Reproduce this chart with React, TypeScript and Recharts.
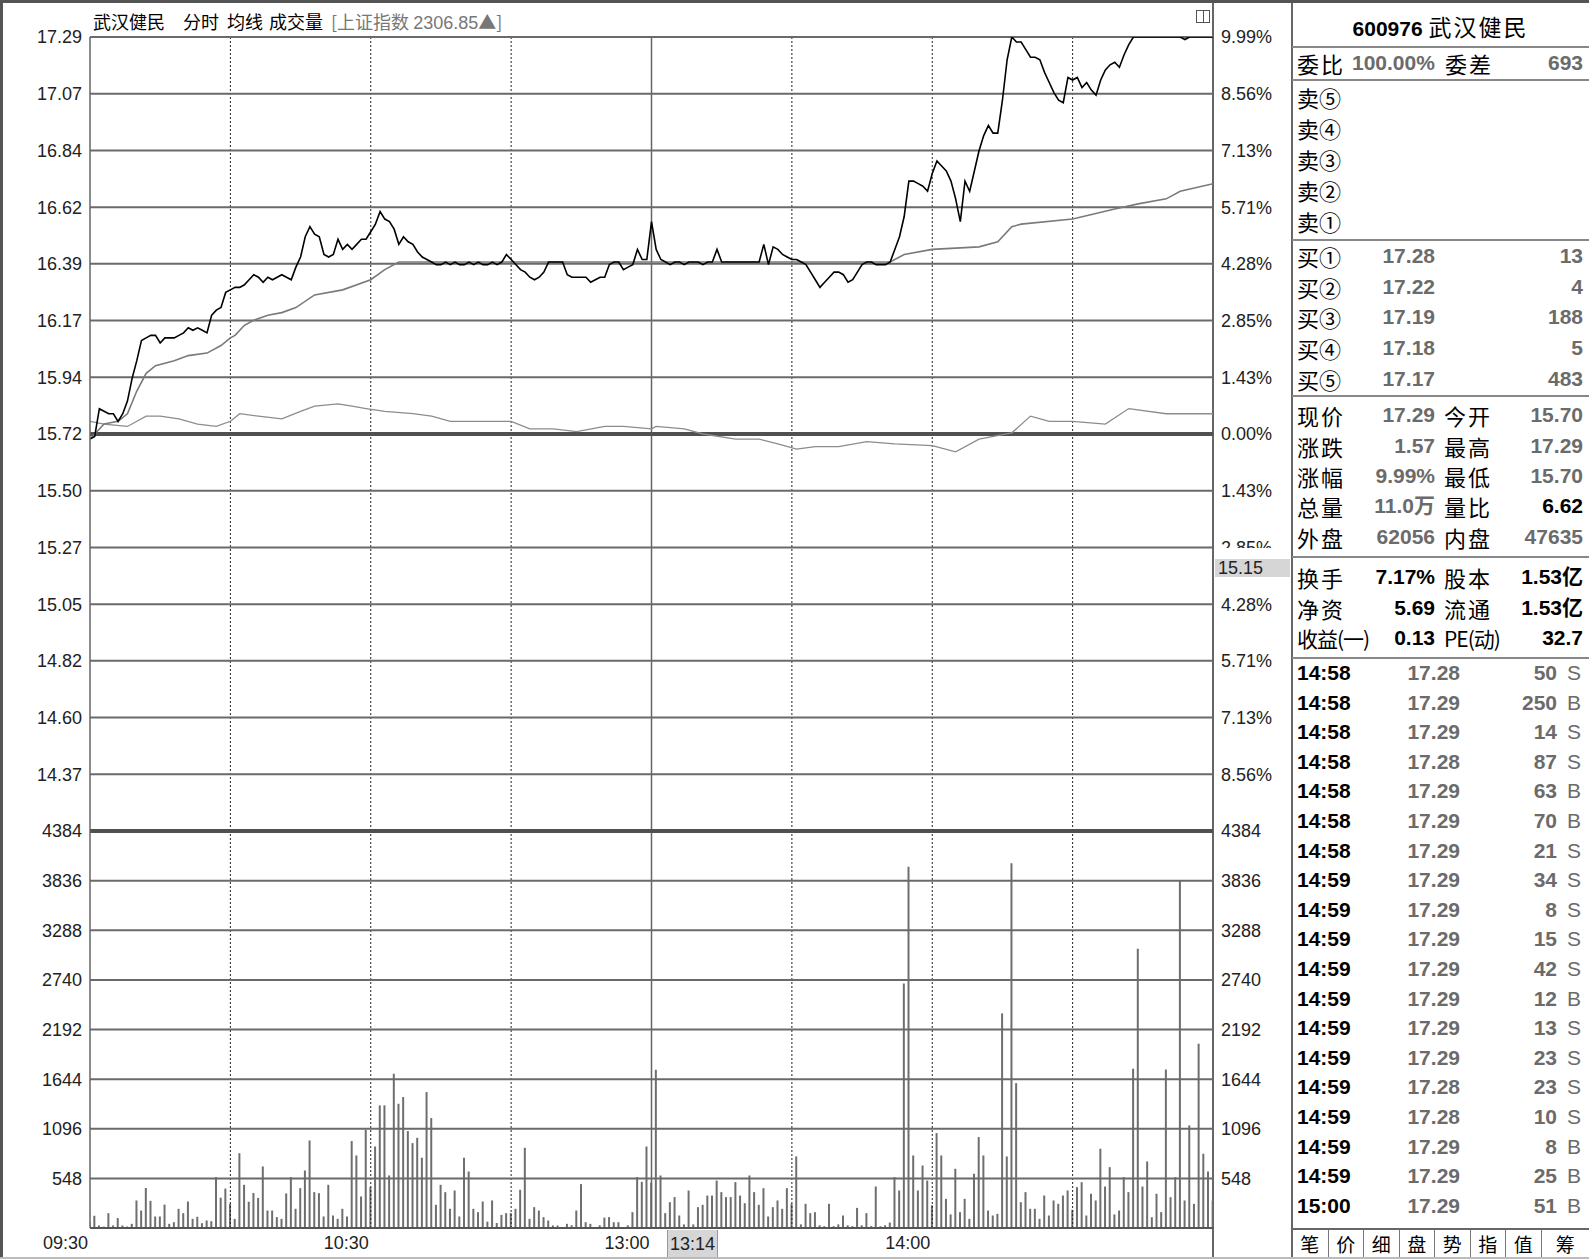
import React from "react";
import { Bar, ComposedChart, Line, ReferenceLine, XAxis, YAxis } from "recharts";

const FONT_NUM = '"Liberation Sans", Arial, "Noto Sans CJK SC", sans-serif';
const FONT_CJK = '"Noto Sans CJK SC", sans-serif';

const PRE_CLOSE = 15.72;
const LIMIT_UP = 17.29;
const STEP = (LIMIT_UP - PRE_CLOSE) / 7;
const PRICE_TICKS = Array.from({ length: 15 }, (_, i) => LIMIT_UP - i * STEP);

const LEFT_PRICE_LABELS = ["17.29", "17.07", "16.84", "16.62", "16.39", "16.17", "15.94", "15.72", "15.50", "15.27", "15.05", "14.82", "14.60", "14.37", ""];
const RIGHT_PCT_LABELS = ["9.99%", "8.56%", "7.13%", "5.71%", "4.28%", "2.85%", "1.43%", "0.00%", "1.43%", "2.85%", "4.28%", "5.71%", "7.13%", "8.56%", ""];
const VOL_TICKS = [4384, 3836, 3288, 2740, 2192, 1644, 1096, 548, 0];
const TIME_TICKS = [0, 60, 120, 180];
const TIME_LABELS = ["09:30", "10:30", "13:00", "14:00"];
const GRID_MIN = [30, 60, 90, 120, 150, 180, 210];

// minute-by-minute price, 09:30 .. 15:00 (241 points)
const PRICE = [
  15.70, 15.71, 15.82, 15.81, 15.80, 15.80, 15.77, 15.80, 15.85, 15.94,
  16.01, 16.09, 16.10, 16.11, 16.11, 16.08, 16.10, 16.10, 16.10, 16.11,
  16.12, 16.14, 16.13, 16.14, 16.13, 16.12, 16.19, 16.21, 16.22, 16.28,
  16.29, 16.30, 16.30, 16.31, 16.33, 16.35, 16.34, 16.32, 16.34, 16.33,
  16.34, 16.35, 16.34, 16.33, 16.38, 16.42, 16.50, 16.54, 16.51, 16.50,
  16.43, 16.42, 16.43, 16.49, 16.45, 16.47, 16.45, 16.47, 16.49, 16.49,
  16.52, 16.55, 16.60, 16.57, 16.56, 16.53, 16.47, 16.50, 16.48, 16.47,
  16.44, 16.42, 16.41, 16.40, 16.39, 16.39, 16.40, 16.39, 16.40, 16.39,
  16.39, 16.40, 16.39, 16.40, 16.39, 16.39, 16.40, 16.39, 16.40, 16.43,
  16.41, 16.39, 16.37, 16.36, 16.34, 16.33, 16.34, 16.36, 16.40, 16.40,
  16.40, 16.40, 16.35, 16.34, 16.34, 16.34, 16.34, 16.32, 16.33, 16.34,
  16.34, 16.39, 16.40, 16.40, 16.37, 16.38, 16.39, 16.45, 16.41, 16.41,
  16.56, 16.45, 16.41, 16.40, 16.39, 16.40, 16.40, 16.39, 16.40, 16.40,
  16.40, 16.39, 16.40, 16.40, 16.45, 16.40, 16.40, 16.40, 16.40, 16.40,
  16.40, 16.40, 16.40, 16.40, 16.47, 16.39, 16.46, 16.45, 16.43, 16.42,
  16.41, 16.41, 16.40, 16.39, 16.36, 16.33, 16.30, 16.32, 16.34, 16.36,
  16.36, 16.35, 16.32, 16.33, 16.36, 16.39, 16.40, 16.40, 16.39, 16.39,
  16.39, 16.40, 16.45, 16.50, 16.58, 16.72, 16.72, 16.71, 16.70, 16.68,
  16.75, 16.80, 16.78, 16.76, 16.72, 16.65, 16.56, 16.72, 16.68, 16.76,
  16.84, 16.90, 16.94, 16.91, 16.91, 17.04, 17.20, 17.29, 17.27, 17.27,
  17.24, 17.21, 17.21, 17.20, 17.15, 17.11, 17.07, 17.04, 17.03, 17.13,
  17.12, 17.13, 17.09, 17.11, 17.08, 17.06, 17.12, 17.16, 17.18, 17.19,
  17.17, 17.22, 17.26, 17.29, 17.29, 17.29, 17.29, 17.29, 17.29, 17.29,
  17.29, 17.29, 17.29, 17.29, 17.28, 17.29, 17.29, 17.29, 17.29, 17.29,
  17.29,
];

// average price (均线)
const AVG_MIN = [0, 3, 6, 8, 10, 12, 14, 18, 21, 25, 28, 30, 31, 33, 35, 38, 41, 44, 48, 54, 60, 63, 66, 80, 100, 120, 140, 160, 171, 174, 180, 190, 194, 197, 199, 210, 219, 224, 230, 233, 240];
const AVG = [15.70, 15.76, 15.77, 15.80, 15.89, 15.96, 15.99, 16.01, 16.03, 16.04, 16.07, 16.10, 16.11, 16.15, 16.17, 16.19, 16.20, 16.22, 16.27, 16.29, 16.33, 16.37, 16.40, 16.40, 16.40, 16.40, 16.40, 16.40, 16.40, 16.43, 16.45, 16.46, 16.48, 16.54, 16.55, 16.57, 16.61, 16.63, 16.65, 16.68, 16.71];

// 上证指数 overlay, % change
const IDX_MIN = [0, 3, 8, 12, 15, 19, 23, 27, 30, 32, 36, 41, 45, 48, 53, 56, 59, 63, 69, 73, 77, 83, 90, 94, 99, 104, 110, 114, 120, 121, 127, 131, 138, 143, 147, 151, 155, 160, 166, 172, 180, 185, 190, 197, 201, 205, 210, 217, 222, 230, 240];
const IDX_PCT = [0.32, 0.25, 0.19, 0.45, 0.45, 0.38, 0.25, 0.19, 0.32, 0.51, 0.45, 0.38, 0.57, 0.70, 0.76, 0.70, 0.64, 0.57, 0.51, 0.45, 0.32, 0.32, 0.32, 0.13, 0.13, 0.06, 0.19, 0.19, 0.13, 0.19, 0.13, 0.00, -0.13, -0.13, -0.25, -0.38, -0.32, -0.32, -0.19, -0.25, -0.29, -0.45, -0.13, 0.03, 0.45, 0.32, 0.32, 0.25, 0.64, 0.51, 0.51];

// per-minute volume (手)
const VOL = [
  60, 135, 28, 15, 164, 28, 110, 28, 17, 46,
  304, 193, 442, 300, 127, 127, 258, 46, 64, 212,
  164, 293, 101, 124, 53, 83, 75, 562, 335, 435,
  267, 101, 826, 477, 290, 387, 332, 680, 193, 193,
  120, 101, 382, 562, 212, 440, 635, 967, 396, 385,
  127, 477, 138, 101, 212, 127, 960, 801, 348, 1085,
  451, 900, 1354, 1354, 580, 1704, 1372, 1446, 1070, 937,
  996, 776, 1501, 1214, 256, 477, 396, 212, 414, 127,
  776, 624, 212, 175, 293, 70, 304, 55, 145, 164,
  164, 212, 422, 886, 101, 230, 193, 120, 83, 28,
  28, 10, 46, 30, 193, 485, 64, 46, 10, 30,
  115, 120, 64, 64, 10, 30, 175, 562, 510, 900,
  500, 1747, 580, 164, 285, 341, 138, 40, 414, 40,
  230, 256, 358, 358, 524, 396, 341, 341, 507, 358,
  274, 580, 396, 256, 440, 127, 230, 304, 212, 440,
  267, 790, 40, 267, 164, 175, 30, 20, 267, 20,
  40, 138, 30, 20, 222, 30, 164, 20, 458, 20,
  30, 60, 562, 414, 2700, 3990, 801, 414, 690, 524,
  250, 1048, 801, 322, 150, 654, 175, 322, 101, 599,
  1004, 801, 193, 138, 156, 2370, 790, 4028, 1600, 285,
  396, 212, 212, 101, 359, 138, 304, 267, 359, 414,
  200, 451, 506, 138, 378, 304, 875, 458, 672, 150,
  193, 562, 396, 1759, 3083, 458, 735, 119, 378, 175,
  1750, 340, 562, 3844, 304, 1133, 267, 2035, 820, 624,
  300,
];

const SELL_LABELS = ["卖⑤", "卖④", "卖③", "卖②", "卖①"];
const BUY_LABELS = ["买①", "买②", "买③", "买④", "买⑤"];
const BUY_PRICE = ["17.28", "17.22", "17.19", "17.18", "17.17"];
const BUY_VOL = ["13", "4", "188", "5", "483"];
const QUOTE = [
  ["现价", "17.29", "今开", "15.70"],
  ["涨跌", "1.57", "最高", "17.29"],
  ["涨幅", "9.99%", "最低", "15.70"],
  ["总量", "11.0万", "量比", "6.62"],
  ["外盘", "62056", "内盘", "47635"],
];
const INFO = [
  ["换手", "7.17%", "股本", "1.53亿"],
  ["净资", "5.69", "流通", "1.53亿"],
  ["收益(一)", "0.13", "PE(动)", "32.7"],
];
const TRADE_TIME = ["14:58", "14:58", "14:58", "14:58", "14:58", "14:58", "14:58", "14:59", "14:59", "14:59", "14:59", "14:59", "14:59", "14:59", "14:59", "14:59", "14:59", "14:59", "15:00"];
const TRADE_PRICE = ["17.28", "17.29", "17.29", "17.28", "17.29", "17.29", "17.29", "17.29", "17.29", "17.29", "17.29", "17.29", "17.29", "17.29", "17.28", "17.28", "17.29", "17.29", "17.29"];
const TRADE_VOL = ["50", "250", "14", "87", "63", "70", "21", "34", "8", "15", "42", "12", "13", "23", "23", "10", "8", "25", "51"];
const TRADE_SIDE = ["S", "B", "S", "S", "B", "B", "S", "S", "S", "S", "S", "B", "S", "S", "S", "S", "B", "B", "B"];
const TABS = ["笔", "价", "细", "盘", "势", "指", "值", "筹"];

const priceData = PRICE.map((p, m) => ({ m, p }));
const avgData = AVG_MIN.map((m, i) => ({ m, p: AVG[i] }));
const idxData = IDX_MIN.map((m, i) => ({ m, p: PRE_CLOSE * (1 + IDX_PCT[i] / 100) }));
const volData = VOL.map((v, m) => ({ m, v }));

const TICK = { fill: "#222", fontSize: 18, fontFamily: FONT_NUM };
const GRID = "#6a6a6a";
const DARK = "#505050";
const W = 1292;
const lblIdx = (v: number) => Math.round((LIMIT_UP - v) / STEP);

function TimeTick(props: any) {
  const { x, y, payload } = props;
  const i = TIME_TICKS.indexOf(payload.value);
  return (
    <text x={x} y={y} dx={-2} dy={13} textAnchor="end" fill="#222" fontSize={18} fontFamily={FONT_NUM}>
      {TIME_LABELS[i]}
    </text>
  );
}

function vLines(yAxisId: string) {
  return GRID_MIN.map((m) =>
    m === 120 ? (
      <ReferenceLine key={"v" + m} x={m} yAxisId={yAxisId} stroke="#666" strokeWidth={1.5} />
    ) : (
      <ReferenceLine key={"v" + m} x={m} yAxisId={yAxisId} stroke="#222" strokeWidth={1} strokeDasharray="2 2" />
    ),
  );
}

function PriceChart() {
  const dom: [number, number] = [PRICE_TICKS[14], PRICE_TICKS[0]];
  return (
    <ComposedChart width={W} height={850} margin={{ top: 37, right: 0, bottom: 19, left: 0 }}>
      <XAxis type="number" dataKey="m" domain={[0, 240]} hide allowDataOverflow />
      <YAxis yAxisId="p" type="number" domain={dom} ticks={PRICE_TICKS} interval={0} width={90}
        allowDataOverflow tickLine={false} axisLine={{ stroke: "#666", strokeWidth: 1.5 }} tick={TICK}
        tickFormatter={(v) => LEFT_PRICE_LABELS[lblIdx(v)]} />
      <YAxis yAxisId="pr" orientation="right" type="number" domain={dom} ticks={PRICE_TICKS} interval={0} width={79}
        allowDataOverflow tickLine={false} axisLine={false} tick={TICK}
        tickFormatter={(v) => RIGHT_PCT_LABELS[lblIdx(v)]} />
      {vLines("p")}
      {PRICE_TICKS.slice(0, 14).map((t, i) => (
        <ReferenceLine key={"h" + i} y={t} yAxisId="p" stroke={i === 7 ? DARK : GRID} strokeWidth={i === 7 ? 4 : 2} />
      ))}
      <Line data={idxData} dataKey="p" yAxisId="pr" type="linear" stroke="#8c8c8c" strokeWidth={1.3} dot={false} isAnimationActive={false} />
      <Line data={avgData} dataKey="p" yAxisId="p" type="linear" stroke="#7a7a7a" strokeWidth={1.6} dot={false} isAnimationActive={false} />
      <Line data={priceData} dataKey="p" yAxisId="p" type="linear" stroke="#000" strokeWidth={1.6} dot={false} isAnimationActive={false} />
    </ComposedChart>
  );
}

function VolumeChart() {
  return (
    <ComposedChart width={W} height={448} data={volData} margin={{ top: 20, right: 0, bottom: 0, left: 0 }}>
      <XAxis type="number" dataKey="m" domain={[0, 240]} ticks={TIME_TICKS} interval={0} height={31}
        allowDataOverflow tickLine={false} axisLine={{ stroke: "#555", strokeWidth: 2 }} tick={<TimeTick />} />
      <YAxis yAxisId="v" type="number" domain={[0, 4384]} ticks={VOL_TICKS} interval={0} width={90}
        allowDataOverflow tickLine={false} axisLine={{ stroke: "#666", strokeWidth: 1.5 }} tick={TICK}
        tickFormatter={(v) => (v === 0 ? "" : String(v))} />
      <YAxis yAxisId="vr" orientation="right" type="number" domain={[0, 4384]} ticks={VOL_TICKS} interval={0} width={79}
        allowDataOverflow tickLine={false} axisLine={false} tick={TICK}
        tickFormatter={(v) => (v === 0 ? "" : String(v))} />
      {vLines("v")}
      {VOL_TICKS.filter((t) => t > 0).map((t) => (
        <ReferenceLine key={"h" + t} y={t} yAxisId="v" stroke={t === 4384 ? DARK : GRID} strokeWidth={t === 4384 ? 4 : 2} />
      ))}
      <Bar dataKey="v" yAxisId="v" barSize={2} fill="#6e6e6e" isAnimationActive={false} />
    </ComposedChart>
  );
}

function T({ x, y, right, children, size = 21, bold = false, color = "#000", cjk = false, spacing }: any) {
  const pos: any = right ? { right: 1589 - x } : { left: x };
  return (
    <div style={{
      position: "absolute", top: y - 14, height: 28, lineHeight: "28px", whiteSpace: "nowrap", ...pos,
      fontFamily: cjk ? FONT_CJK : FONT_NUM, fontSize: size, fontWeight: bold ? 700 : 400, color,
      letterSpacing: spacing ?? (cjk ? 2 : 0),
    }}>{children}</div>
  );
}

function HLine({ y, x = W, w = 1589 - W, h = 2, c = "#888" }: any) {
  return <div style={{ position: "absolute", left: x, top: y, width: w, height: h, background: c }} />;
}

function RightPanel() {
  const SELL_Y = [97, 128, 159, 190, 221];
  const BUY_Y = [256, 287, 317, 348, 379];
  const QUOTE_Y = [415, 446, 476, 506, 537];
  const INFO_Y = [577, 608, 638];
  const G = "#6b6b6b";
  return (
    <>
      <div style={{ position: "absolute", left: W - 1, top: 0, width: 2, height: 1259, background: "#666" }} />
      <div style={{ position: "absolute", left: W, top: 12, width: 1589 - W, height: 28, lineHeight: "28px", textAlign: "center", whiteSpace: "nowrap" }}>
        <span style={{ fontFamily: FONT_NUM, fontWeight: 700, fontSize: 21 }}>600976 </span>
        <span style={{ fontFamily: FONT_CJK, fontSize: 23, letterSpacing: 2 }}>武汉健民</span>
      </div>
      <HLine y={46} />
      <T x={1297} y={63} cjk size={22}>委比</T>
      <T x={1352} y={63} bold color={G}>100.00%</T>
      <T x={1445} y={63} cjk size={22}>委差</T>
      <T x={1583} y={63} right bold color={G}>693</T>
      <HLine y={79} />
      {SELL_LABELS.map((s, i) => <T key={s} x={1297} y={SELL_Y[i]} cjk size={22} spacing={0}>{s}</T>)}
      <HLine y={239} />
      {BUY_LABELS.map((s, i) => (
        <React.Fragment key={s}>
          <T x={1297} y={BUY_Y[i]} cjk size={22} spacing={0}>{s}</T>
          <T x={1435} y={BUY_Y[i]} right bold color={G}>{BUY_PRICE[i]}</T>
          <T x={1583} y={BUY_Y[i]} right bold color={G}>{BUY_VOL[i]}</T>
        </React.Fragment>
      ))}
      <HLine y={395} />
      {QUOTE.map((r, i) => (
        <React.Fragment key={r[0]}>
          <T x={1297} y={QUOTE_Y[i]} cjk size={22}>{r[0]}</T>
          <T x={1435} y={QUOTE_Y[i]} right bold color={G}>{r[1]}</T>
          <T x={1444} y={QUOTE_Y[i]} cjk size={22}>{r[2]}</T>
          <T x={1583} y={QUOTE_Y[i]} right bold color={i === 3 ? "#000" : G}>{r[3]}</T>
        </React.Fragment>
      ))}
      <HLine y={556} />
      {INFO.map((r, i) => (
        <React.Fragment key={r[0]}>
          <T x={1297} y={INFO_Y[i]} cjk size={i === 2 ? 21 : 22} spacing={i === 2 ? -1 : 2}>{r[0]}</T>
          <T x={1435} y={INFO_Y[i]} right bold>{r[1]}</T>
          <T x={1444} y={INFO_Y[i]} cjk size={i === 2 ? 21 : 22} spacing={i === 2 ? -1 : 2}>{r[2]}</T>
          <T x={1583} y={INFO_Y[i]} right bold>{r[3]}</T>
        </React.Fragment>
      ))}
      <HLine y={657} />
      {TRADE_TIME.map((t, i) => {
        const y = 673 + i * 29.6;
        return (
          <React.Fragment key={i}>
            <T x={1297} y={y} bold>{t}</T>
            <T x={1460} y={y} right bold color={G}>{TRADE_PRICE[i]}</T>
            <T x={1557} y={y} right bold color={G}>{TRADE_VOL[i]}</T>
            <T x={1567} y={y} color={G}>{TRADE_SIDE[i]}</T>
          </React.Fragment>
        );
      })}
      <HLine y={1228} c="#666" />
      {TABS.map((t, i) => {
        const left = W + i * 35.5;
        const w = i === 7 ? 1589 - left : 35.5;
        return (
          <div key={t} style={{
            position: "absolute", left, top: 1230, width: w, height: 28, lineHeight: "28px", textAlign: "center",
            fontFamily: FONT_CJK, fontSize: 19, borderLeft: i ? "1px solid #777" : "none", boxSizing: "border-box",
          }}>{t}</div>
        );
      })}
    </>
  );
}

export default function App() {
  return (
    <div style={{ position: "relative", width: 1589, height: 1259, background: "#fff", overflow: "hidden" }}>
      <style>{"body{margin:0}"}</style>
      <div style={{ position: "absolute", left: 1212, top: 0, width: 2, height: 1259, background: "#666" }} />
      <div style={{ position: "absolute", left: 0, top: 0 }}><PriceChart /></div>
      <div style={{ position: "absolute", left: 0, top: 811 }}><VolumeChart /></div>
      {/* header */}
      <div style={{ position: "absolute", left: 93, top: 8, height: 26, lineHeight: "26px", fontFamily: FONT_CJK, fontSize: 18, whiteSpace: "nowrap", color: "#000" }}>武汉健民</div>
      <div style={{ position: "absolute", left: 183, top: 8, height: 26, lineHeight: "26px", fontFamily: FONT_CJK, fontSize: 18, whiteSpace: "nowrap" }}>分时</div>
      <div style={{ position: "absolute", left: 227, top: 8, height: 26, lineHeight: "26px", fontFamily: FONT_CJK, fontSize: 18, whiteSpace: "nowrap" }}>均线</div>
      <div style={{ position: "absolute", left: 269, top: 8, height: 26, lineHeight: "26px", fontFamily: FONT_CJK, fontSize: 18, whiteSpace: "nowrap" }}>成交量</div>
      <div style={{ position: "absolute", left: 331, top: 8, height: 26, lineHeight: "26px", fontFamily: FONT_CJK, fontSize: 18, whiteSpace: "nowrap", color: "#777" }}>
        [上证指数 <span style={{ fontFamily: FONT_NUM }}>2306.85</span>▲]
      </div>
      {/* small layout icon */}
      <div style={{ position: "absolute", left: 1196, top: 10, width: 14, height: 13, border: "1px solid #555", boxSizing: "border-box" }}>
        <div style={{ position: "absolute", left: 6, top: 0, width: 1, height: 11, background: "#555" }} />
      </div>
      {/* cursor price marker */}
      <div style={{ position: "absolute", left: 1214, top: 548, width: 77, height: 11, background: "#fff" }} />
      <div style={{ position: "absolute", left: 1215, top: 559, width: 75, height: 18, lineHeight: "18px", background: "#d6d6d6", fontFamily: FONT_NUM, fontSize: 18, color: "#222", paddingLeft: 3, boxSizing: "border-box" }}>15.15</div>
      {/* cursor time marker */}
      <div style={{ position: "absolute", left: 667, top: 1230, width: 51, height: 29, lineHeight: "29px", background: "#d6d6d6", borderLeft: "1px solid #999", borderRight: "1px solid #999", boxSizing: "border-box", fontFamily: FONT_NUM, fontSize: 18, color: "#222", textAlign: "center" }}>13:14</div>
      <RightPanel />
      {/* outer frame */}
      <div style={{ position: "absolute", left: 0, top: 0, width: 1589, height: 3, background: "#555" }} />
      <div style={{ position: "absolute", left: 0, top: 0, width: 3, height: 1259, background: "#555" }} />
      <div style={{ position: "absolute", left: 0, top: 1257, width: 1589, height: 2, background: "#bbb" }} />
    </div>
  );
}
